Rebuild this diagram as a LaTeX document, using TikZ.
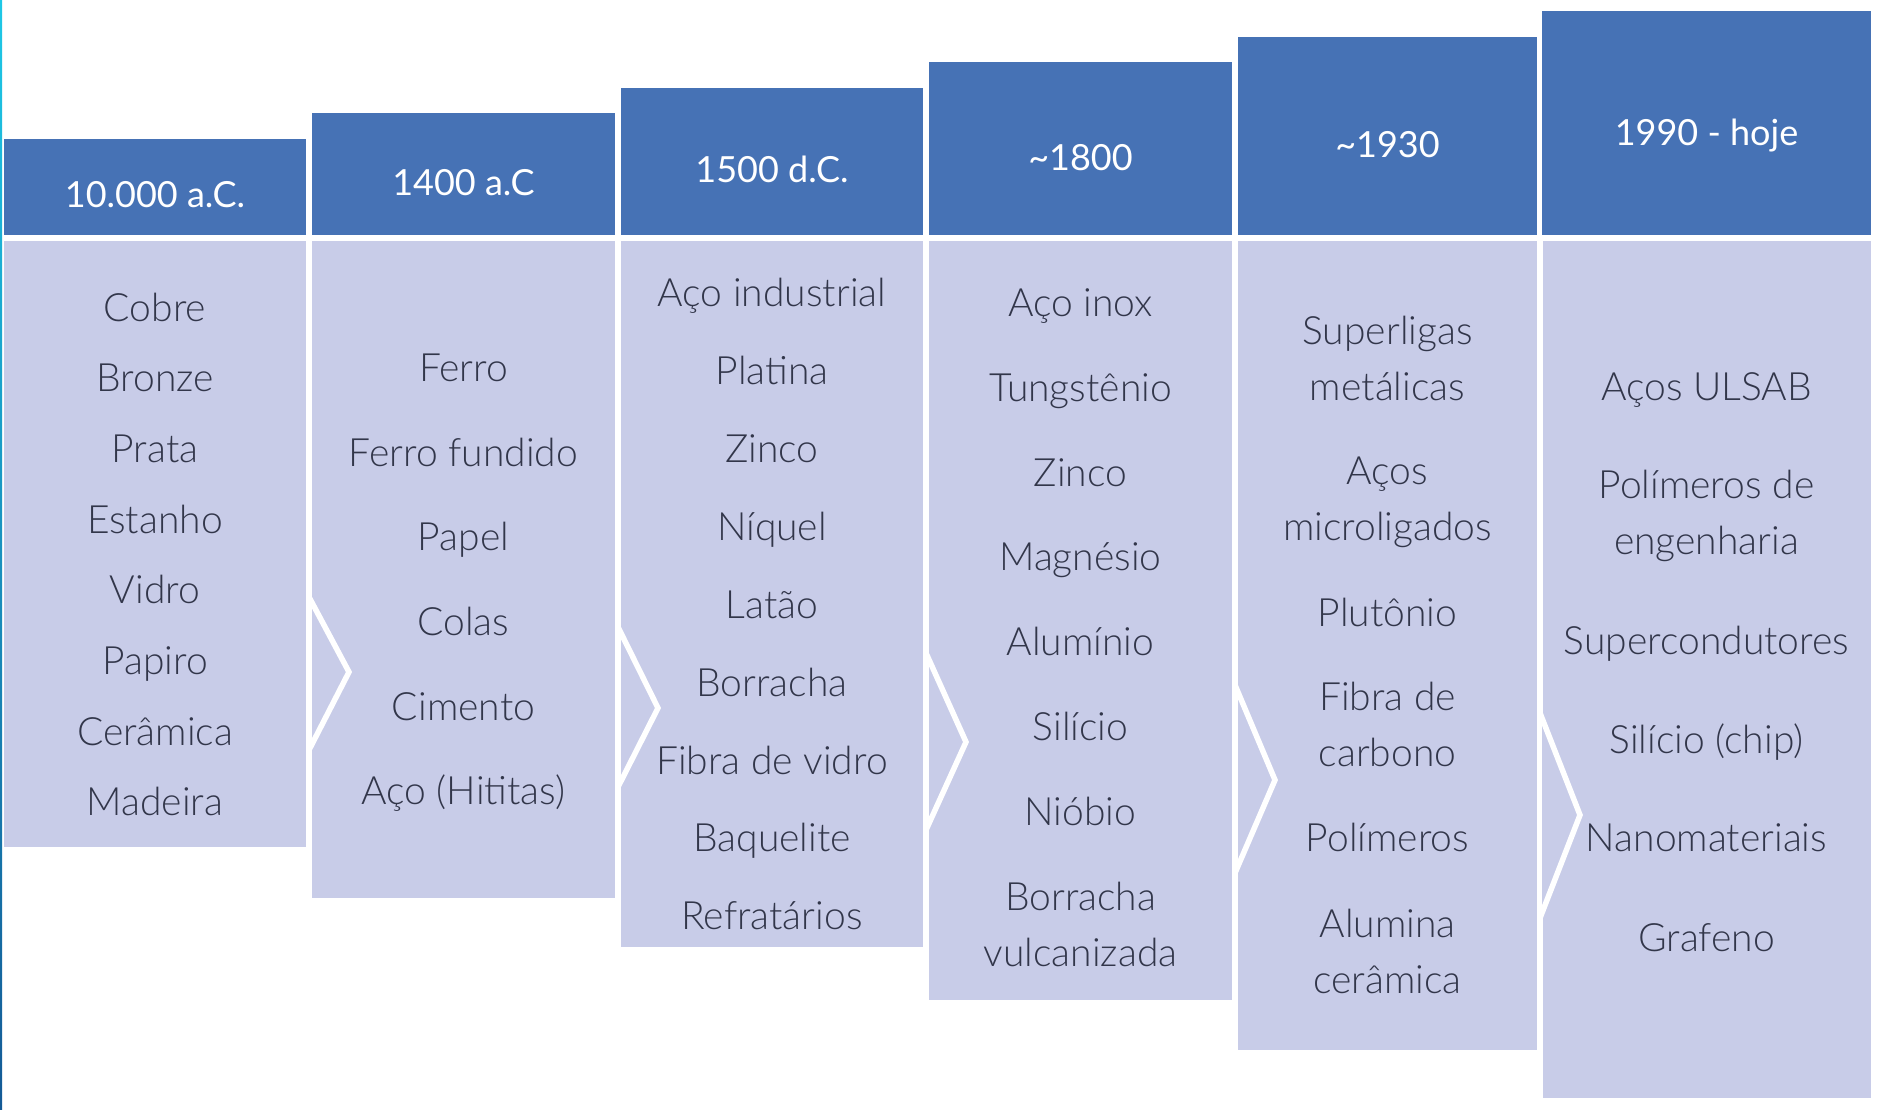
\documentclass[tikz,border=0pt]{standalone}
\usepackage{fontspec}
\setmainfont{Lato}
\newfontfamily\itemfont{Lato Light}
\usepackage{tikz}
\usetikzlibrary{positioning}

\definecolor{HeadBlue}{RGB}{70,114,181}
\definecolor{BodyLilac}{RGB}{200,204,232}
\definecolor{ItemGray}{RGB}{50,54,74}
\definecolor{EdgeCyan}{RGB}{30,200,230}
\definecolor{EdgeNavy}{RGB}{20,90,150}

\begin{document}
\begin{tikzpicture}[x=1pt,y=-1pt]
	\tikzstyle{Head}	= [text=white, inner sep=0pt, anchor=base, font=\fontsize{36}{40}\selectfont]
	\tikzstyle{Item}	= [text=ItemGray, inner sep=0pt, anchor=base, align=center, font=\itemfont\fontsize{39}{56}\selectfont]
	\tikzstyle{Gap}		= [white, line width=5.5pt, line join=miter]

	\useasboundingbox (0,0) rectangle (1879,1109);
	\shade[top color=EdgeCyan, bottom color=EdgeNavy] (0,0) rectangle (2,1109);

	% left/right/top/bottom of each period
	\foreach \l/\r/\t/\b in {4/306/139/847, 312/615/113/898, 621/923/88/947, 929/1232/62/1000, 1238/1537/37/1050, 1542/1871/11/1098}
	{
		\fill[HeadBlue] (\l,\t) rectangle (\r,235);
		\fill[BodyLilac] (\l,241) rectangle (\r,\b);
	}

	% white separators with the chevrons
	\foreach \x/\s/\p/\e/\b in {309/597/672/750/898, 618/627/708/787/947, 926/653/742/830/1000, 1235/685/780/873/1050, 1540/713/815/918/1098}
		\draw[Gap] (\x,241) -- (\x,\s) -- (\x+40,\p) -- (\x,\e) -- (\x,\b);

	\foreach \x/\y/\t [count=\i] in {155/207/10.000 a.C., 463.5/195/1400 a.C, 772/182/1500 d.C., 1080.5/170/\textasciitilde1800, 1387.5/157/\textasciitilde1930, 1706.5/145/1990 - hoje}
		\node[Head] (h\i) at (\x,\y) {\t};

	% base of a two-line text is its last line
	\foreach \y/\t [count=\i] in {321/Cobre, 391/Bronze, 462/Prata, 533/Estanho, 603/Vidro, 674/Papiro, 745/Cerâmica, 815/Madeira}
		\node[Item] (era1-\i) at (155,\y) {\t};
	\foreach \y/\t [count=\i] in {381/Ferro, 466/Ferro fundido, 550/Papel, 635/Colas, 720/Cimento, 804/Aço (Hititas)}
		\node[Item] (era2-\i) at (463.5,\y) {\t};
	\foreach \y/\t [count=\i] in {306/Aço industrial, 384/Platina, 462/Zinco, 540/Níquel, 618/Latão, 696/Borracha, 774/Fibra de vidro, 851/Baquelite, 929/Refratários}
		\node[Item] (era3-\i) at (772,\y) {\t};
	\foreach \y/\t [count=\i] in {316/Aço inox, 401/Tungstênio, 486/Zinco, 570/Magnésio, 655/Alumínio, 740/Silício, 825/Nióbio, 966/{Borracha\\vulcanizada}}
		\node[Item] (era4-\i) at (1080.5,\y) {\t};
	\foreach \y/\t [count=\i] in {400/{Superligas\\metálicas}, 540/{Aços\\microligados}, 626/Plutônio, 766/{Fibra de\\carbono}, 851/Polímeros, 993/{Alumina\\cerâmica}}
		\node[Item] (era5-\i) at (1387.5,\y) {\t};
	\foreach \y/\t [count=\i] in {400/Aços ULSAB, 554/{Polímeros de\\engenharia}, 654/Supercondutores, 753/Silício (chip), 851/Nanomateriais, 951/Grafeno}
		\node[Item] (era6-\i) at (1706.5,\y) {\t};
\end{tikzpicture}
\end{document}
